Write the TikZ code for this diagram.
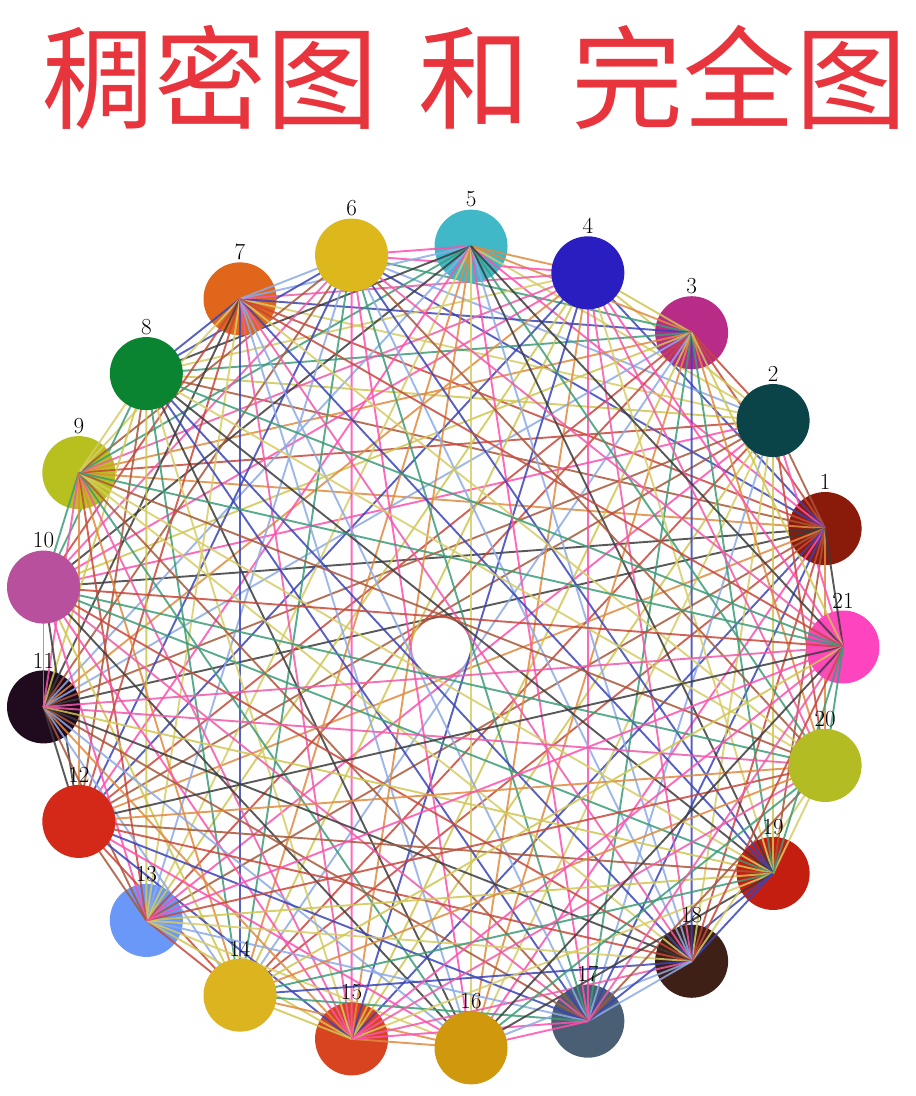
\documentclass[tikz,border=0pt]{standalone}
\usepackage{fontspec}
\newfontfamily\cjk{Noto Sans CJK SC}
\usepackage{tikz}
\usetikzlibrary{backgrounds}

\definecolor{titlered}{HTML}{E8343C}
\definecolor{e0}{HTML}{CFC650}
\definecolor{e1}{HTML}{FF4FAE}
\definecolor{e2}{HTML}{3A44B8}
\definecolor{e3}{HTML}{3C9C78}
\definecolor{e4}{HTML}{3C3C3C}
\definecolor{e5}{HTML}{C8483A}
\definecolor{e6}{HTML}{E08A40}
\definecolor{e7}{HTML}{8CAAE6}
\definecolor{e8}{HTML}{D6CC66}
\definecolor{e9}{HTML}{F05AA8}
\definecolor{e10}{HTML}{A8583A}
\definecolor{c1}{HTML}{8A1A0A}
\definecolor{c2}{HTML}{0A4448}
\definecolor{c3}{HTML}{B82C88}
\definecolor{c4}{HTML}{2A1EC0}
\definecolor{c5}{HTML}{40B8C8}
\definecolor{c6}{HTML}{DCB81C}
\definecolor{c7}{HTML}{E0661C}
\definecolor{c8}{HTML}{0A8430}
\definecolor{c9}{HTML}{B8C020}
\definecolor{c10}{HTML}{B8509E}
\definecolor{c11}{HTML}{200A1E}
\definecolor{c12}{HTML}{D42818}
\definecolor{c13}{HTML}{6A98F8}
\definecolor{c14}{HTML}{DCB420}
\definecolor{c15}{HTML}{D84420}
\definecolor{c16}{HTML}{D0980C}
\definecolor{c17}{HTML}{4A5E74}
\definecolor{c18}{HTML}{3E2016}
\definecolor{c19}{HTML}{C41E10}
\definecolor{c20}{HTML}{B4BC24}
\definecolor{c21}{HTML}{FF44C0}

\begin{document}
\begin{tikzpicture}[x=1pt,y=1pt,
  vert/.style={circle,inner sep=0pt,minimum size=73pt},
  num/.style={font=\fontsize{23}{23}\selectfont,text=black,inner sep=0pt},
  link/.style={line width=1.9pt,opacity=.85}
]
  \useasboundingbox (-441,-449) rectangle (475,647);
  \node[font=\cjk\fontsize{112}{112}\selectfont,text=titlered] (title) at (34,570)
    {稠密图\hspace{.36em}和\hspace{.36em}完全图};
  \foreach \k in {1,...,21}
    \node[vert,fill=c\k,label={[num,label distance=2pt]above:\k}] (v\k) at (\k*360/21:402) {};
  \begin{scope}[on background layer]
    \foreach \i in {1,...,20} {
      \pgfmathtruncatemacro\jfrom{\i+1}
      \foreach \j in {\jfrom,...,21} {
        \pgfmathtruncatemacro\e{mod(7*\i*\j+3*(\i+\j)+(\i+\j)*(\i+\j),11)}
        \draw[link,e\e] (v\i.center) -- (v\j.center);
      }
    }
  \end{scope}
  \foreach \k in {1,3,5,7,9,11,13,15,17,18,19,21} {
    \begin{scope}
      \clip (v\k.center) circle[radius=36.5];
      \foreach \j in {1,...,21} {
        \ifnum\j=\k\else
          \pgfmathtruncatemacro\e{mod(7*\k*\j+3*(\k+\j)+(\k+\j)*(\k+\j),11)}
          \draw[link,e\e] (v\k.center) -- (v\j.center);
        \fi
      }
    \end{scope}
  }
\end{tikzpicture}
\end{document}
